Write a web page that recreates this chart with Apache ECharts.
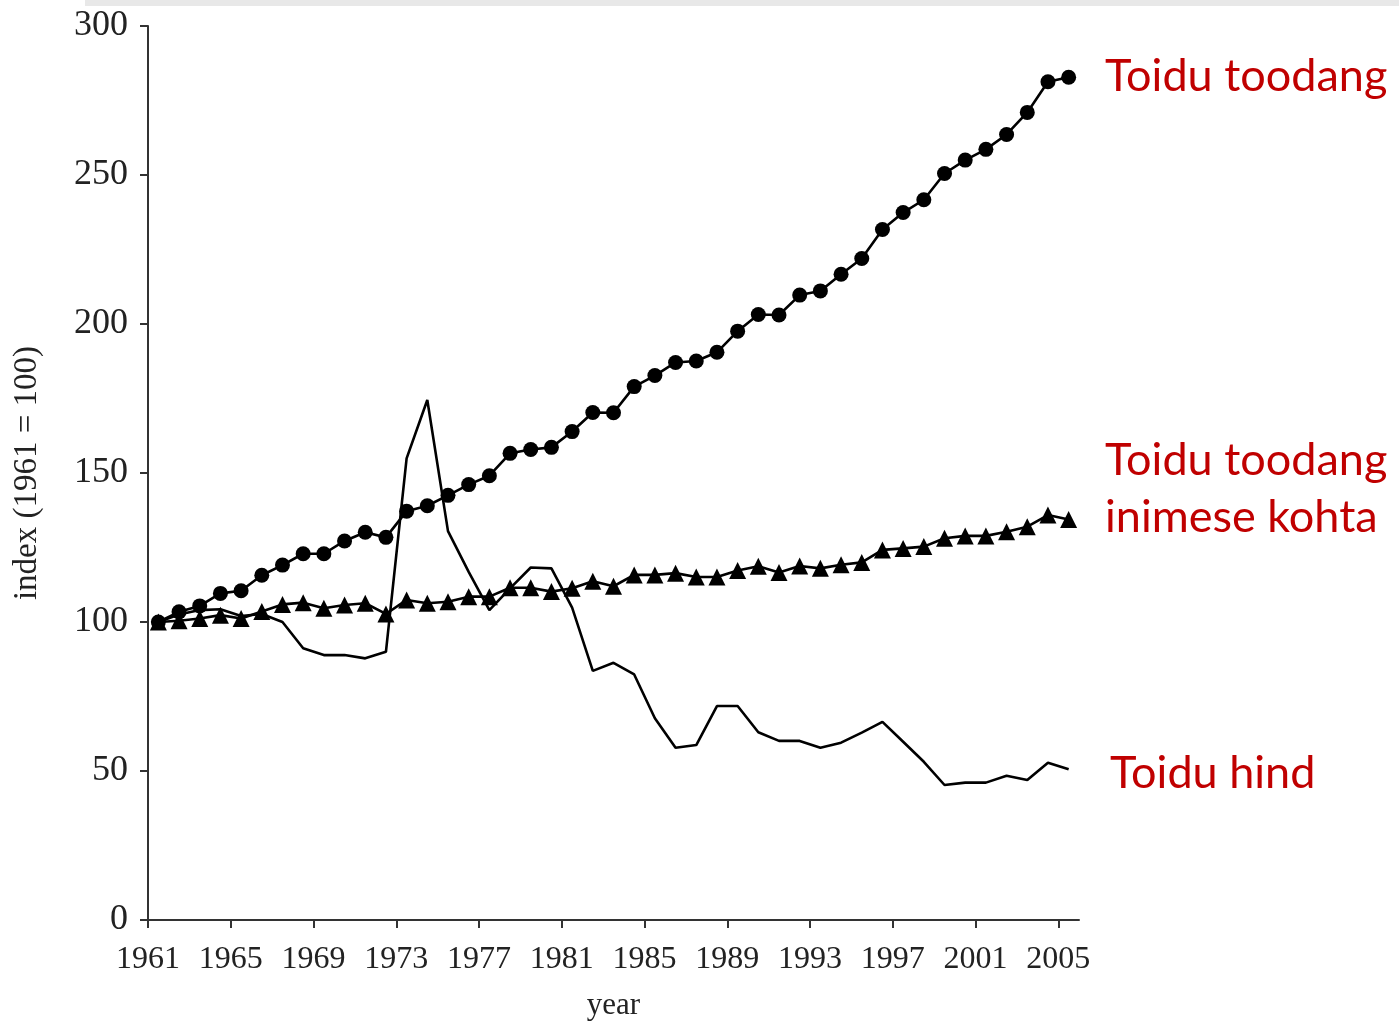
<!DOCTYPE html>
<html>
<head>
<meta charset="utf-8">
<script src="https://cdn.jsdelivr.net/npm/echarts@6/dist/echarts.min.js"></script>
<style>
  html, body { margin: 0; padding: 0; background: #fff; }
  #chart { width: 1399px; height: 1022px; }
</style>
</head>
<body>
<div id="chart"></div>
<script>
// years of the series (points sit in the middle of each year)
const years = [
  1961, 1962, 1963, 1964, 1965, 1966, 1967, 1968, 1969, 1970,
  1971, 1972, 1973, 1974, 1975, 1976, 1977, 1978, 1979, 1980,
  1981, 1982, 1983, 1984, 1985, 1986, 1987, 1988, 1989, 1990,
  1991, 1992, 1993, 1994, 1995, 1996, 1997, 1998, 1999, 2000,
  2001, 2002, 2003, 2004, 2005
];
const tickYears = [1961, 1965, 1969, 1973, 1977, 1981, 1985, 1989, 1993, 1997, 2001, 2005];

// Toidu toodang (circles)
const production = [
  100, 103.4, 105.4, 109.6, 110.5, 115.7, 119.1, 122.9, 122.9, 127.2,
  130.1, 128.4, 137.2, 139.0, 142.5, 146.1, 149.1, 156.6, 157.9, 158.6,
  163.9, 170.3, 170.2, 179.0, 182.7, 187.1, 187.6, 190.5, 197.6, 203.2,
  203.0, 209.7, 211.1, 216.7, 222.0, 231.7, 237.4, 241.7, 250.5, 255.0,
  258.6, 263.6, 271.0, 281.3, 282.8
];
// Toidu toodang inimese kohta (triangles)
const perCapita = [
  100, 100.4, 101.2, 102.3, 101.2, 103.5, 105.9, 106.5, 104.6, 105.7,
  106.3, 102.7, 107.4, 106.3, 106.8, 108.5, 108.5, 111.5, 111.5, 110.2,
  111.3, 113.7, 112.0, 115.8, 115.8, 116.4, 115.1, 115.1, 117.3, 118.7,
  116.6, 118.8, 118.0, 119.2, 120.0, 124.2, 124.7, 125.3, 128.1, 128.9,
  128.9, 130.3, 132.0, 135.9, 134.4
];
// Toidu hind (plain line)
const price = [
  100, 102.5, 104.0, 104.3, 102.0, 102.7, 100.0, 91.2, 88.9, 88.9,
  87.8, 90.0, 154.9, 174.5, 130.5, 116.8, 104.0, 111.3, 118.3, 118.0,
  104.8, 83.6, 86.3, 82.4, 67.7, 57.8, 58.7, 71.8, 71.8, 63.0,
  60.1, 60.1, 57.8, 59.5, 62.9, 66.5, 59.8, 53.1, 45.3, 46.1,
  46.1, 48.4, 47.0, 52.8, 50.6
];

const serif = "'Liberation Serif', 'DejaVu Serif', serif";
const red = '#C00000';
const labelFont = '45px Lato, sans-serif';

function toPoints(values) {
  return values.map((v, i) => [years[i] + 0.5, v]);
}

const chart = echarts.init(document.getElementById('chart'));
chart.setOption({
  animation: false,
  backgroundColor: '#fff',
  grid: { left: 148, right: 320, top: 26, bottom: 102, outerBoundsMode: 'none', containLabel: false },
  xAxis: {
    type: 'value',
    min: 1961,
    max: 2006,
    name: 'year',
    nameLocation: 'middle',
    nameGap: 70,
    nameTextStyle: { fontFamily: serif, fontSize: 31, color: '#222' },
    axisLine: { show: true, lineStyle: { color: '#333', width: 2 } },
    axisTick: { show: true, length: 8, customValues: tickYears, lineStyle: { color: '#333', width: 2 } },
    axisLabel: {
      customValues: tickYears,
      formatter: v => String(v),
      fontFamily: serif, fontSize: 32, color: '#222', margin: 24
    },
    splitLine: { show: false }
  },
  yAxis: {
    type: 'value',
    min: 0,
    max: 300,
    interval: 50,
    name: 'index (1961 = 100)',
    nameLocation: 'middle',
    nameGap: 104,
    nameTextStyle: { fontFamily: serif, fontSize: 33, color: '#222' },
    axisLine: { show: true, lineStyle: { color: '#333', width: 2 } },
    axisTick: { show: true, length: 8, lineStyle: { color: '#333', width: 2 } },
    axisLabel: { fontFamily: serif, fontSize: 36, color: '#222', margin: 20 },
    splitLine: { show: false }
  },
  series: [
    {
      name: 'Toidu hind',
      type: 'line',
      data: toPoints(price),
      symbol: 'none',
      lineStyle: { color: '#000', width: 2.6 }
    },
    {
      name: 'Toidu toodang inimese kohta',
      type: 'line',
      data: toPoints(perCapita),
      symbol: 'triangle',
      symbolSize: 17,
      itemStyle: { color: '#000' },
      lineStyle: { color: '#000', width: 2.6 }
    },
    {
      name: 'Toidu toodang',
      type: 'line',
      data: toPoints(production),
      symbol: 'circle',
      symbolSize: 15,
      itemStyle: { color: '#000' },
      lineStyle: { color: '#000', width: 2.6 }
    }
  ],
  graphic: [
    { type: 'rect', shape: { x: 85, y: 0, width: 1314, height: 6 }, style: { fill: '#e8e8e8' } },
    { type: 'text', style: { x: 1105, y: 76, text: 'Toidu toodang', font: labelFont, fill: red, textVerticalAlign: 'middle' } },
    { type: 'text', style: { x: 1105, y: 460, text: 'Toidu toodang', font: labelFont, fill: red, textVerticalAlign: 'middle' } },
    { type: 'text', style: { x: 1105, y: 517, text: 'inimese kohta', font: labelFont, fill: red, textVerticalAlign: 'middle' } },
    { type: 'text', style: { x: 1110, y: 773, text: 'Toidu hind', font: labelFont, fill: red, textVerticalAlign: 'middle' } }
  ]
});
</script>
</body>
</html>
